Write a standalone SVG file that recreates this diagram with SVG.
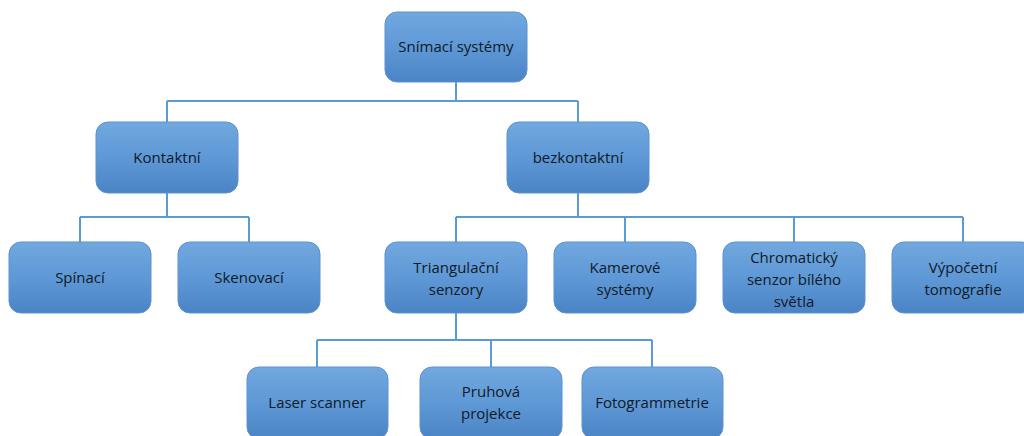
<svg xmlns="http://www.w3.org/2000/svg" width="1024" height="436" viewBox="0 0 1024 436">
<defs>
<linearGradient id="g" x1="0" y1="0" x2="0" y2="1">
<stop offset="0" stop-color="#72a8df"/>
<stop offset="0.5" stop-color="#5e98d6"/>
<stop offset="1" stop-color="#4a84c5"/>
</linearGradient>
</defs>
<style>
.box{fill:url(#g);stroke:#5b93cf;stroke-width:1}
.t{font-family:"Open Sans","Liberation Sans",sans-serif;font-size:15px;fill:#101a26;text-anchor:middle}
.c{fill:none;stroke:#5b9bd5;stroke-width:2}
</style>
<rect width="1024" height="436" fill="#ffffff"/>
<g id="connectors">
<path class="c" d="M456 82V101M167 101H578M167 101V122M578 101V122"/>
<path class="c" d="M167 193V217M80 217H249M80 217V242M249 217V242"/>
<path class="c" d="M578 193V217M456 217H963M456 217V242M625 217V242M794 217V242M963 217V242"/>
<path class="c" d="M456 313V340M317 340H652M317 340V367M491 340V367M652 340V367"/>
</g>
<g id="n-root"><rect class="box" x="385" y="12" width="142" height="70" rx="12"/><text class="t" x="456" y="52">Snímací systémy</text></g>
<g id="n-kontaktni"><rect class="box" x="96" y="122" width="142" height="71" rx="12"/><text class="t" x="167" y="163">Kontaktní</text></g>
<g id="n-bezkontaktni"><rect class="box" x="507" y="122" width="142" height="71" rx="12"/><text class="t" x="578" y="163">bezkontaktní</text></g>
<g id="n-spinaci"><rect class="box" x="9" y="242" width="142" height="71" rx="12"/><text class="t" x="80" y="283">Spínací</text></g>
<g id="n-skenovaci"><rect class="box" x="178" y="242" width="142" height="71" rx="12"/><text class="t" x="249" y="283">Skenovací</text></g>
<g id="n-triangulacni"><rect class="box" x="385" y="242" width="142" height="71" rx="12"/><text class="t" x="456" y="273">Triangulační</text><text class="t" x="456" y="295">senzory</text></g>
<g id="n-kamerove"><rect class="box" x="554" y="242" width="142" height="71" rx="12"/><text class="t" x="625" y="273">Kamerové</text><text class="t" x="625" y="295">systémy</text></g>
<g id="n-chromaticky"><rect class="box" x="723" y="242" width="142" height="71" rx="12"/><text class="t" x="794" y="263">Chromatický</text><text class="t" x="794" y="285">senzor bílého</text><text class="t" x="794" y="307">světla</text></g>
<g id="n-vypocetni"><rect class="box" x="892" y="242" width="142" height="71" rx="12"/><text class="t" x="963" y="273">Výpočetní</text><text class="t" x="963" y="295">tomografie</text></g>
<g id="n-laser"><rect class="box" x="247" y="367" width="141" height="72" rx="12"/><text class="t" x="317" y="408">Laser scanner</text></g>
<g id="n-pruhova"><rect class="box" x="420" y="367" width="142" height="72" rx="12"/><text class="t" x="491" y="397">Pruhová</text><text class="t" x="491" y="419">projekce</text></g>
<g id="n-foto"><rect class="box" x="582" y="367" width="141" height="72" rx="12"/><text class="t" x="652" y="408">Fotogrammetrie</text></g>
</svg>
